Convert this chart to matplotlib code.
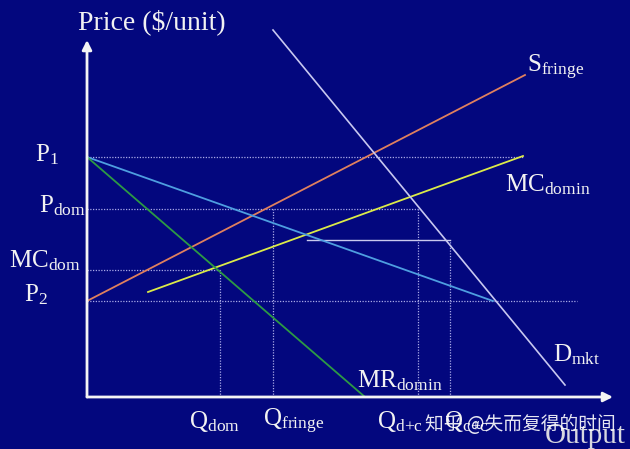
import matplotlib
matplotlib.use("Agg")
import matplotlib.pyplot as plt

plt.rcParams['mathtext.fontset'] = 'custom'
plt.rcParams['mathtext.rm'] = 'Liberation Serif'
plt.rcParams['mathtext.it'] = 'Liberation Serif'
plt.rcParams['font.family'] = ['Liberation Serif', 'DejaVu Serif']

# ---- data (quantity, price) ----
price_levels = {"P1": 24.0, "Pdom": 18.8, "MCdom": 12.7, "P2": 9.6, "Pmid": 15.7}
q_levels = {"Qdom": 13.3, "Qfringe": 18.6, "Qdc": 33.1, "Qcc": 36.3}

supply_fringe_q = [0.0, 43.8]
supply_fringe_p = [9.6, 32.2]
mc_domin_q = [6.1, 43.6]
mc_domin_p = [10.5, 24.1]
demand_mkt_q = [18.6, 47.8]
demand_mkt_p = [36.7, 1.2]
residual_q = [0.0, 40.6]
residual_p = [24.0, 9.6]
mr_domin_q = [0.0, 27.8]
mr_domin_p = [24.0, 0.0]

# dotted guide extents (end quantity for horizontal, start price for vertical)
h_guides = [("P1", 43.6), ("Pdom", 33.1), ("MCdom", 13.3), ("P2", 49.0)]
v_guides = [("Qdom", 12.7), ("Qfringe", 18.8), ("Qdc", 18.8), ("Qcc", 15.7)]
mid_line_q = [22.0, 36.3]

BG = '#03077E'
fig = plt.figure(figsize=(6.3, 4.49), dpi=100, facecolor=BG)
ax = fig.add_axes([0, 0, 1, 1], facecolor=BG)
ax.set_xlim(-8.7, 54.3)
ax.set_ylim(-5.2, 39.7)
ax.axis('off')

guide_c = '#A9A9E6'
for name, qend in h_guides:
    p = price_levels[name]
    ax.plot([0, qend], [p, p], color=guide_c, lw=0.9, ls=(0, (1, 1.2)))
for name, pstart in v_guides:
    q = q_levels[name]
    ax.plot([q, q], [0, pstart], color=guide_c, lw=0.9, ls=(0, (1, 1.2)))
ax.plot(mid_line_q, [price_levels["Pmid"]] * 2, color='#C9C9EE', lw=1.0)

ax.plot(supply_fringe_q, supply_fringe_p, color='#E0805E', lw=1.3)
ax.plot(mc_domin_q, mc_domin_p, color='#DCEB48', lw=1.3)
ax.plot(demand_mkt_q, demand_mkt_p, color='#C8C8F0', lw=1.2)
ax.plot(residual_q, residual_p, color='#4E9EE0', lw=1.3)
ax.plot(mr_domin_q, mr_domin_p, color='#2C9A44', lw=1.3)

# axes arrows
ax.annotate('', xy=(0, 35.7), xytext=(0, 0),
            arrowprops=dict(arrowstyle='-|>', color='#F4F4F4', lw=2.0, mutation_scale=14, shrinkA=0, shrinkB=0))
ax.annotate('', xy=(52.6, 0), xytext=(0, 0),
            arrowprops=dict(arrowstyle='-|>', color='#F4F4F4', lw=2.0, mutation_scale=14, shrinkA=0, shrinkB=0))

tc = '#F2F2F2'
ax.text(-0.9, 37.5, 'Price ($/unit)', color=tc, fontsize=20, va='center', ha='left')
ax.text(-2.8, 24.2, r'$\mathrm{P}_1$', color=tc, fontsize=18, va='center', ha='right')
ax.text(-0.1, 19.1, r'$\mathrm{P}_{\mathrm{dom}}$', color=tc, fontsize=18, va='center', ha='right')
ax.text(-0.6, 13.6, r'$\mathrm{MC}_{\mathrm{dom}}$', color=tc, fontsize=18, va='center', ha='right')
ax.text(-3.9, 10.2, r'$\mathrm{P}_2$', color=tc, fontsize=18, va='center', ha='right')
ax.text(44.0, 33.0, r'$\mathrm{S}_{\mathrm{fringe}}$', color=tc, fontsize=18, va='center', ha='left')
ax.text(41.8, 21.2, r'$\mathrm{MC}_{\mathrm{domin}}$', color=tc, fontsize=18, va='center', ha='left')
ax.text(46.6, 4.2, r'$\mathrm{D}_{\mathrm{mkt}}$', color=tc, fontsize=18, va='center', ha='left')
ax.text(27.0, 1.6, r'$\mathrm{MR}_{\mathrm{domin}}$', color=tc, fontsize=18, va='center', ha='left')
ax.text(10.2, -2.4, r'$\mathrm{Q}_{\mathrm{dom}}$', color=tc, fontsize=18, va='center', ha='left')
ax.text(17.6, -2.4, r'$\mathrm{Q}_{\mathrm{fringe}}$', color=tc, fontsize=18, va='center', ha='left')
ax.text(29.0, -2.5, r'$\mathrm{Q}_{\mathrm{d{+}c}}$', color=tc, fontsize=18, va='center', ha='left')
ax.text(35.7, -2.5, r'$\mathrm{Q}_{\mathrm{c{+}c}}$', color=tc, fontsize=18, va='center', ha='left')
ax.text(45.8, -3.9, 'Output', color='#D8D8E0', fontsize=21, va='center', ha='left')

ax.text(33.8, -2.7, '知乎 @失而复得的时间', color='white', alpha=0.9, fontsize=13.5,
        va='center', ha='left', family=['Noto Sans CJK SC', 'DejaVu Sans'])

fig.savefig('out.png', dpi=100, facecolor=BG)
